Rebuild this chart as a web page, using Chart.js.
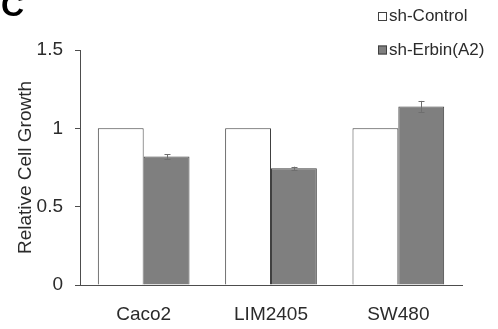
<!DOCTYPE html>
<html>
<head>
<meta charset="utf-8">
<script src="https://cdn.jsdelivr.net/npm/chart.js@4/dist/chart.umd.min.js"></script>
<style>
  html, body { margin: 0; padding: 0; background: #fff; }
  #wrap { width: 498px; height: 329px; position: relative; }
</style>
</head>
<body>
<div id="wrap"><canvas id="growthChart"></canvas></div>
<script>
// Dados
const categories = ['Caco2', 'LIM2405', 'SW480'];
const controlValues = [1, 1, 1];
const erbinValues = [0.82, 0.745, 1.14];
const erbinErrors = [0.015, 0.01, 0.035];
const yTicks = [0, 0.5, 1, 1.5];
const yTickLabels = ['0', '0.5', '1', '1.5'];

const txtColor = '#2b2b2b';
const axisColor = '#4d4d4d';
const grayFill = '#7f7f7f';

// barras de erro
const errorBars = {
    id: 'errorBars',
    afterDatasetsDraw(chart) {
        const ctx = chart.ctx;
        const meta = chart.getDatasetMeta(1);
        const y = chart.scales.y;
        ctx.save();
        ctx.strokeStyle = '#6e6e6e';
        ctx.lineWidth = 1;
        meta.data.forEach((bar, i) => {
            const v = erbinValues[i], e = erbinErrors[i];
            const top = y.getPixelForValue(v + e);
            const bot = y.getPixelForValue(v - e);
            const x = Math.round(bar.x) + 0.5;
            ctx.beginPath();
            ctx.moveTo(x, top); ctx.lineTo(x, bot);
            ctx.moveTo(x - 3, Math.round(top) + 0.5); ctx.lineTo(x + 3, Math.round(top) + 0.5);
            ctx.moveTo(x - 3, Math.round(bot) + 0.5); ctx.lineTo(x + 3, Math.round(bot) + 0.5);
            ctx.stroke();
        });
        ctx.restore();
    }
};

// letra do painel + legenda
const extras = {
    id: 'extras',
    afterDraw(chart) {
        const ctx = chart.ctx;
        ctx.save();
        ctx.fillStyle = '#000';
        ctx.font = 'bold 32px "Liberation Sans", Arial, sans-serif';
        ctx.textBaseline = 'alphabetic';
        ctx.fillText('C', 1, 16);

        ctx.font = '17px "Liberation Sans", Arial, sans-serif';
        ctx.textBaseline = 'middle';
        const rows = [16.5, 50];
        chart.data.datasets.forEach((ds, i) => {
            const cy = rows[i];
            ctx.fillStyle = ds.backgroundColor;
            ctx.fillRect(378, cy - 4.5, 9, 9);
            ctx.strokeStyle = '#404040';
            ctx.lineWidth = 1;
            ctx.strokeRect(378.5, cy - 4, 8, 8);
            ctx.fillStyle = txtColor;
            ctx.fillText(ds.label, 389, cy);
        });
        ctx.restore();
    }
};

new Chart(document.getElementById('growthChart'), {
    type: 'bar',
    data: {
        labels: categories,
        datasets: [
            {
                label: 'sh-Control',
                data: controlValues,
                backgroundColor: '#ffffff',
                borderColor: '#404040',
                borderWidth: 1,
                categoryPercentage: 0.72,
                barPercentage: 1
            },
            {
                label: 'sh-Erbin(A2)',
                data: erbinValues,
                backgroundColor: grayFill,
                borderColor: '#404040',
                borderWidth: 1,
                categoryPercentage: 0.72,
                barPercentage: 1
            }
        ]
    },
    options: {
        responsive: true,
        maintainAspectRatio: false,
        animation: false,
        layout: { padding: { top: 50, right: 36, left: 0, bottom: 0 } },
        plugins: {
            legend: { display: false },
            tooltip: { enabled: false }
        },
        scales: {
            x: {
                grid: { display: true, drawOnChartArea: false, drawTicks: false },
                border: { color: axisColor, width: 1 },
                ticks: {
                    color: txtColor,
                    padding: 18,
                    font: { family: '"Liberation Sans", Arial', size: 19 }
                },
                afterFit(scale) { scale.height = 44; }
            },
            y: {
                min: 0,
                max: 1.5,
                afterBuildTicks(scale) { scale.ticks = yTicks.map(v => ({ value: v })); },
                grid: { drawOnChartArea: false, drawTicks: true, tickLength: 5, color: axisColor },
                border: { color: axisColor, width: 1 },
                ticks: {
                    color: txtColor,
                    padding: 12,
                    font: { family: '"Liberation Sans", Arial', size: 19 },
                    callback: (v, i) => yTickLabels[i]
                },
                title: {
                    display: true,
                    text: 'Relative Cell Growth',
                    color: txtColor,
                    padding: { top: 14, bottom: 0 },
                    font: { family: '"Liberation Sans", Arial', size: 19 }
                },
                afterFit(scale) { scale.width = 80; }
            }
        }
    },
    plugins: [errorBars, extras]
});
</script>
</body>
</html>
